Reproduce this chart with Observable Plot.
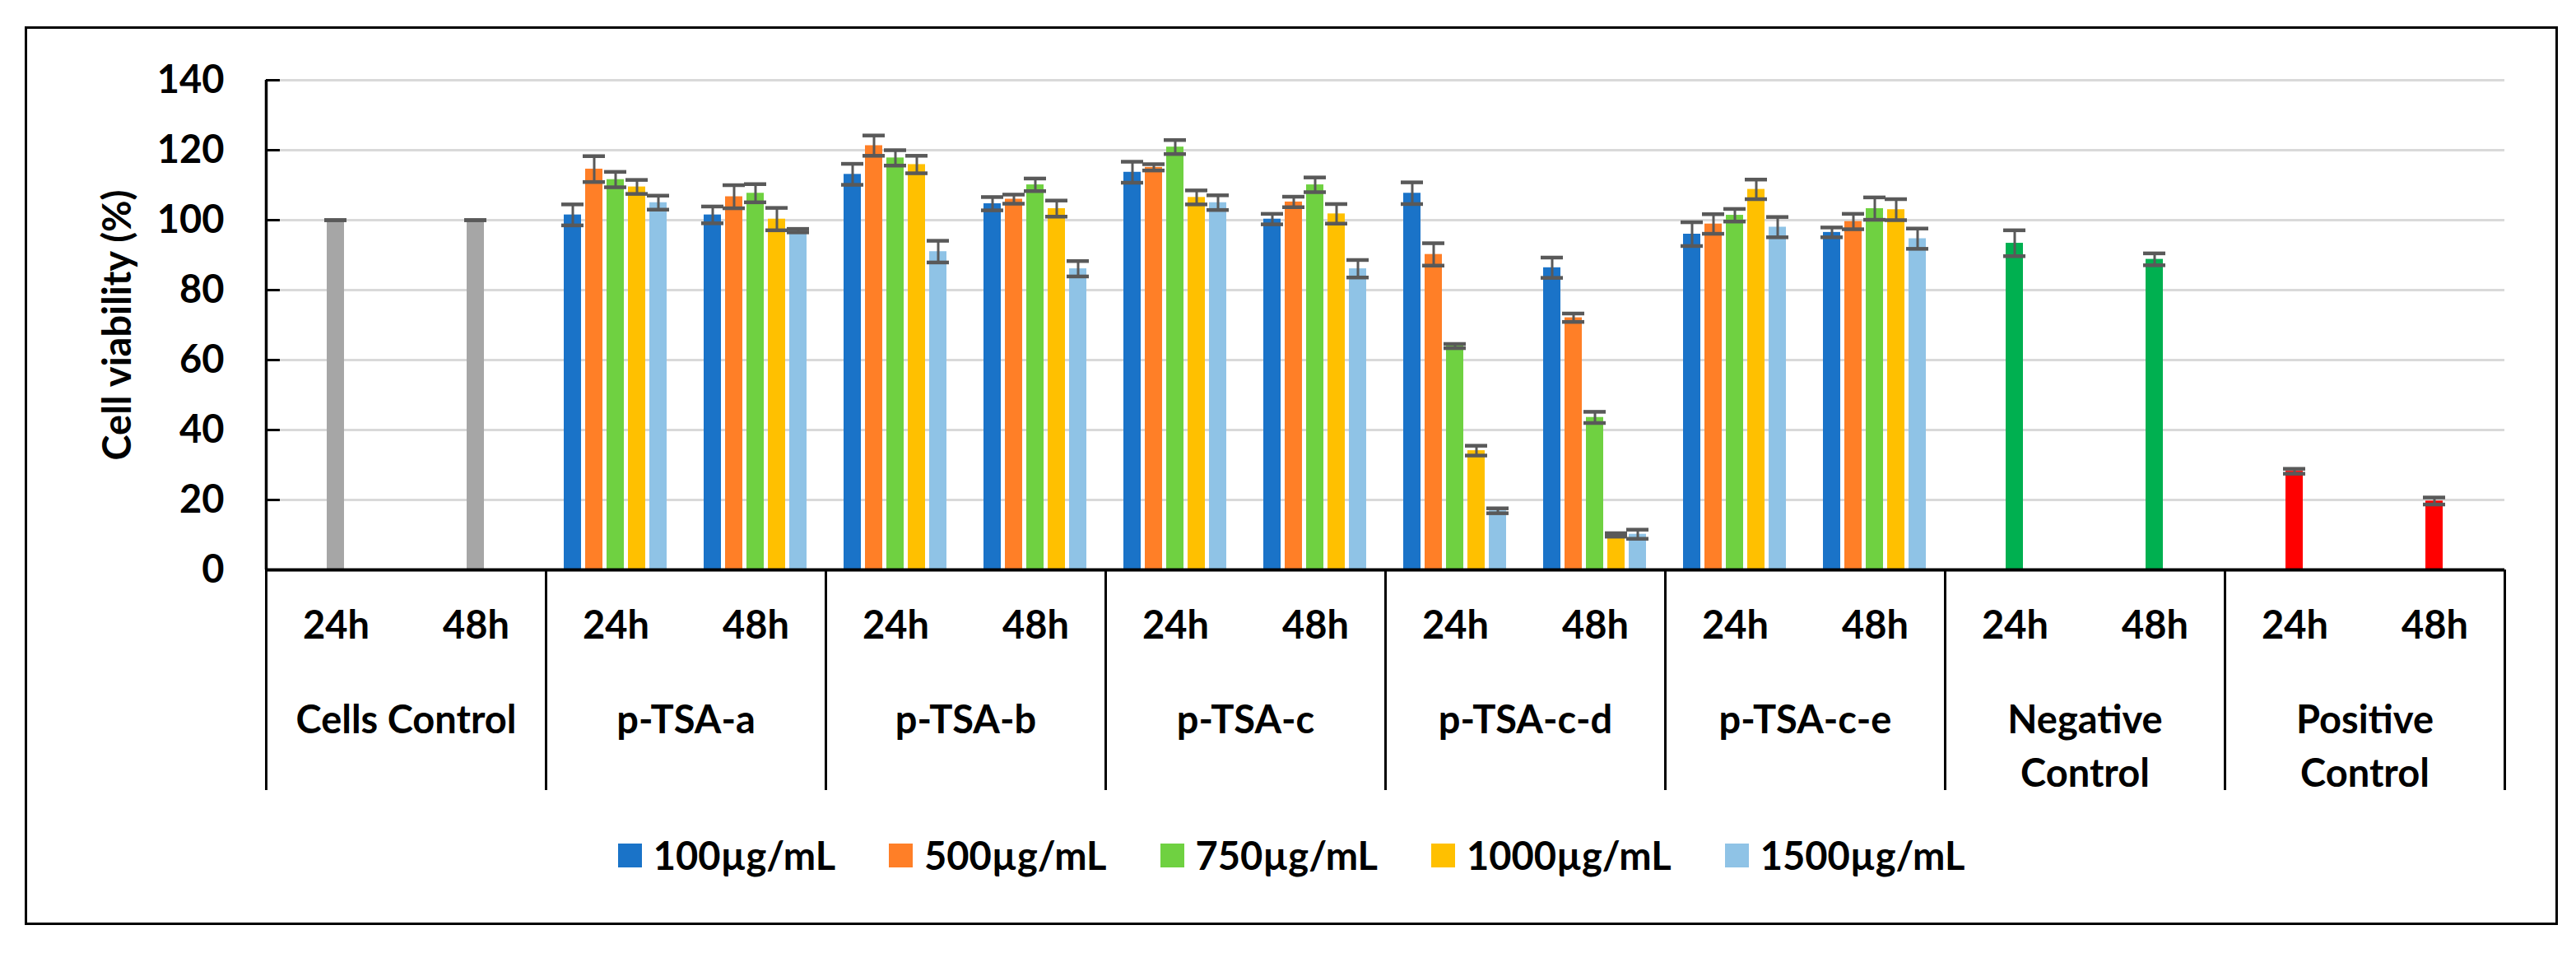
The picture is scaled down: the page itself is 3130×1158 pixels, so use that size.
<!DOCTYPE html>
<html>
<head>
<meta charset="utf-8">
<script src="https://cdn.jsdelivr.net/npm/d3@7"></script>
<script src="https://cdn.jsdelivr.net/npm/@observablehq/plot@0.6"></script>
<style>
  body { margin: 0; background: #fff; }
  #box { position: absolute; left: 30px; top: 32px; width: 3078px; height: 1092px; box-sizing: border-box; border: 3px solid #000; }
  #chart { position: absolute; left: 0; top: 0; }
  #legend { position: absolute; left: 30px; top: 1009px; width: 3078px; height: 60px; display: flex; align-items: center; justify-content: center; }
  #legend .conc-swatches { font: 700 47px Lato, "Open Sans", sans-serif; color: #000; margin: 0; justify-content: center; }
  #legend .conc-swatch { margin-right: 65px; }
  #legend .conc-swatch:last-child { margin-right: 0; }
  #legend .conc-swatch > svg { margin-right: 14px; }
</style>
</head>
<body>
<div id="box"></div>
<div id="chart"></div>
<div id="legend"></div>
<script>
const font = "Lato, 'Open Sans', sans-serif";

// categories
const groups = ["Cells Control", "p-TSA-a", "p-TSA-b", "p-TSA-c", "p-TSA-c-d", "p-TSA-c-e", "Negative Control", "Positive Control"];
const groupLabels = ["Cells Control", "p-TSA-a", "p-TSA-b", "p-TSA-c", "p-TSA-c-d", "p-TSA-c-e", "Negative\nControl", "Positive\nControl"];
const times = ["24h", "48h"];
const concentrations = ["100µg/mL", "500µg/mL", "750µg/mL", "1000µg/mL", "1500µg/mL"];
const treatments = ["p-TSA-a", "p-TSA-b", "p-TSA-c", "p-TSA-c-d", "p-TSA-c-e"];
const controls = ["Cells Control", "Negative Control", "Positive Control"];

// cell viability (%) per treatment, one value per concentration
const means24h = [
  [101.5, 114.6, 111.6, 109.5, 105.0],
  [113.1, 121.3, 117.8, 115.9, 91.0],
  [113.7, 115.1, 120.9, 106.5, 105.0],
  [107.7, 90.2, 64.0, 34.1, 16.9],
  [96.0, 98.9, 101.4, 108.8, 98.0]
];
const sd24h = [
  [3.0, 3.7, 2.2, 2.0, 2.0],
  [3.0, 2.9, 2.2, 2.5, 3.1],
  [3.0, 0.9, 2.0, 2.0, 2.1],
  [3.1, 3.2, 0.6, 1.4, 0.7],
  [3.4, 2.8, 1.8, 2.8, 2.9]
];
const means48h = [
  [101.5, 106.7, 107.7, 100.3, 97.0],
  [104.7, 106.0, 110.1, 103.3, 86.1],
  [100.3, 105.2, 110.1, 101.8, 86.1],
  [86.4, 72.1, 43.6, 10.0, 10.2],
  [96.5, 99.6, 103.3, 103.0, 94.7]
];
const sd48h = [
  [2.4, 3.3, 2.6, 3.2, 0.5],
  [1.9, 1.3, 1.8, 2.3, 2.2],
  [1.5, 1.5, 2.1, 2.8, 2.5],
  [2.9, 1.2, 1.6, 0.5, 1.3],
  [1.4, 2.2, 3.2, 3.0, 2.9]
];
const controlMeans24h = [100, 93.4, 28.2];
const controlSd24h = [0, 3.7, 0.7];
const controlMeans48h = [100, 88.8, 19.7];
const controlSd48h = [0, 1.7, 1.0];

const yTicks = [0, 20, 40, 60, 80, 100, 120, 140];

const seriesColors = ["#1A73C8", "#FF7F27", "#6FD141", "#FFC000", "#8FC3E6"];
const controlColors = ["#A6A6A6", "#00B050", "#FF0000"];

// build rows
const key = (g, t) => g + "|" + t;
const keys = groups.flatMap(g => times.map(t => key(g, t)));
const rows = [];
for (const g of groups) {
  times.forEach((t, ti) => {
    const c = controls.indexOf(g);
    if (c >= 0) {
      const m = ti ? controlMeans48h[c] : controlMeans24h[c];
      const s = ti ? controlSd48h[c] : controlSd24h[c];
      rows.push({key: key(g, t), slot: concentrations[2], series: g, value: m, lo: m - s, hi: m + s});
    } else {
      const k = treatments.indexOf(g);
      concentrations.forEach((conc, i) => {
        const m = (ti ? means48h : means24h)[k][i];
        const s = (ti ? sd48h : sd24h)[k][i];
        rows.push({key: key(g, t), slot: conc, series: conc, value: m, lo: m - s, hi: m + s});
      });
    }
  });
}
const subgroups = keys.map(k => ({key: k, time: k.split("|")[1]}));
const groupRows = groups.map((g, i) => ({key: key(g, "24h"), label: groupLabels[i]}));
const lastRow = [{key: keys[keys.length - 1]}];

const W = 3130, H = 965, ML = 323, MR = 87, MT = 97, MB = 273;
const fw = (W - ML - MR) / keys.length;   // width of one 24h/48h slot
const below = 268;                        // category separators reach below the axis
const fs = 47;

const plot = Plot.plot({
  width: W,
  height: H,
  marginLeft: ML,
  marginRight: MR,
  marginTop: MT,
  marginBottom: MB,
  style: {fontFamily: font, fontWeight: "bold", fontSize: fs + "px", color: "#000", background: "transparent"},
  fx: {domain: keys, padding: 0, axis: null},
  x: {domain: concentrations, paddingInner: 0.19, paddingOuter: 0.864, axis: null},
  y: {domain: [0, 140]},
  color: {domain: [...concentrations, ...controls], range: [...seriesColors, ...controlColors]},
  marks: [
    Plot.ruleY(yTicks.slice(1), {stroke: "#D9D9D9", strokeWidth: 3}),
    Plot.barY(rows, {fx: "key", x: "slot", y: "value", fill: "series"}),
    Plot.ruleX(rows, {fx: "key", x: "slot", y1: "lo", y2: "hi", stroke: "#595959", strokeWidth: 3}),
    Plot.tickY(rows, {fx: "key", x: "slot", y: "hi", stroke: "#595959", strokeWidth: 4.5, insetLeft: -3, insetRight: -3}),
    Plot.tickY(rows, {fx: "key", x: "slot", y: "lo", stroke: "#595959", strokeWidth: 4.5, insetLeft: -3, insetRight: -3}),
    // axis lines and inside tick marks
    Plot.ruleY([0], {stroke: "#000", strokeWidth: 4}),
    Plot.ruleX([0], {x: null, facetAnchor: "left", dx: -fw / 2, stroke: "#000", strokeWidth: 3.5}),
    Plot.ruleY(yTicks.slice(1), {facetAnchor: "left", insetRight: fw - 17, stroke: "#000", strokeWidth: 3}),
    Plot.axisY({ticks: yTicks, tickSize: 0, tickPadding: 51, fontSize: fs, fontWeight: "bold"}),
    Plot.text(["Cell viability (%)"], {facetAnchor: "left", frameAnchor: "left", rotate: -90, textAnchor: "middle", lineAnchor: "middle", dx: -180, fontSize: fs, fontWeight: "bold"}),
    // category axis: separators, time labels, group labels
    Plot.ruleX(groupRows, {fx: "key", x: null, y1: 0, insetBottom: -below, dx: -fw / 2, stroke: "#000", strokeWidth: 3}),
    Plot.ruleX(lastRow, {fx: "key", x: null, y1: 0, insetBottom: -below, dx: fw / 2, stroke: "#000", strokeWidth: 3}),
    Plot.text(subgroups, {fx: "key", text: "time", frameAnchor: "bottom", lineAnchor: "middle", dy: 68, fontSize: fs, fontWeight: "bold"}),
    Plot.text(groupRows, {fx: "key", text: "label", frameAnchor: "bottom-right", textAnchor: "middle", lineAnchor: "top", lineHeight: 1.383, dy: 152, fontSize: fs, fontWeight: "bold"})
  ]
});
document.getElementById("chart").appendChild(plot);

const legend = Plot.legend({
  color: {domain: concentrations, range: seriesColors},
  swatchSize: 29,
  className: "conc"
});
document.getElementById("legend").appendChild(legend);
</script>
</body>
</html>
